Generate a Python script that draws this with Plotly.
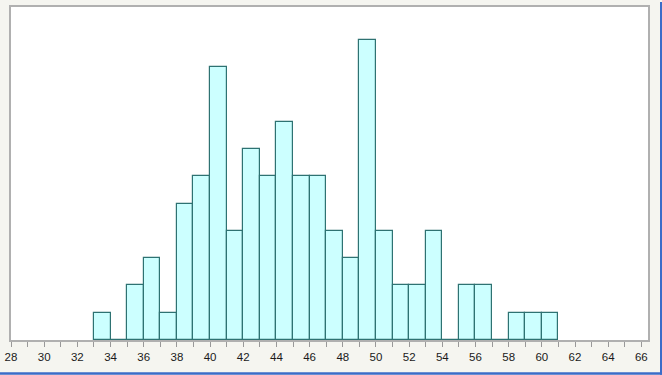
import plotly.graph_objects as go

bin_starts = list(range(33, 61))
counts = [1, 0, 2, 3, 1, 5, 6, 10, 4, 7, 6, 8, 6, 6, 4, 3, 11, 4, 2, 2, 4, 0, 2, 2, 0, 1, 1, 1]
tick_vals = list(range(28, 67, 2))
tick_text = [str(v) for v in tick_vals]

centers = [b + 0.5 for b in bin_starts]

fig = go.Figure()
fig.add_trace(go.Bar(
    x=centers, y=counts, width=1,
    marker=dict(color="#ccffff", line=dict(color="#2e7272", width=1.2)),
    hoverinfo="x+y",
))

W, H = 662, 375
ml, mr, mt, mb = 11, 14, 5, 35
pw, ph = W - ml - mr, H - mt - mb


def px_x(p):
    return (p - ml) / pw


def px_y(p):
    return (mt + ph - p) / ph


fig.update_layout(
    width=W, height=H,
    margin=dict(l=ml, r=mr, t=mt, b=mb),
    paper_bgcolor="#f5f5f0", plot_bgcolor="#ffffff",
    showlegend=False, bargap=0,
    font=dict(family="Liberation Sans, Arial, sans-serif", size=11, color="#1a1a1a"),
    xaxis=dict(
        range=[28, 66.4], tickvals=tick_vals, ticktext=tick_text,
        ticks="outside", ticklen=5, tickcolor="#999999", tickwidth=1,
        minor=dict(dtick=1, tick0=28, ticks="outside", ticklen=5, tickcolor="#999999"),
        showgrid=False, zeroline=False,
        showline=True, linecolor="#b0b0b0", linewidth=1.5, mirror=True,
        tickfont=dict(size=11.5, color="#1a1a1a"),
    ),
    yaxis=dict(
        range=[0, 12.2], showticklabels=False, ticks="", showgrid=False, zeroline=False,
        showline=True, linecolor="#b0b0b0", linewidth=1.5, mirror=True,
    ),
    shapes=[
        dict(type="rect", xref="paper", yref="paper",
             x0=px_x(0), x1=px_x(W), y0=px_y(375), y1=px_y(372.5),
             line=dict(width=0), fillcolor="#3b6cc8"),
        dict(type="rect", xref="paper", yref="paper",
             x0=px_x(660), x1=px_x(W), y0=px_y(375), y1=px_y(0),
             line=dict(width=0), fillcolor="#3b6cc8"),
    ],
)

fig.write_html(
    "out.html",
    config={"displayModeBar": False},
    post_script="document.body.style.margin='0';document.body.style.padding='0';document.body.style.overflow='hidden';",
)
